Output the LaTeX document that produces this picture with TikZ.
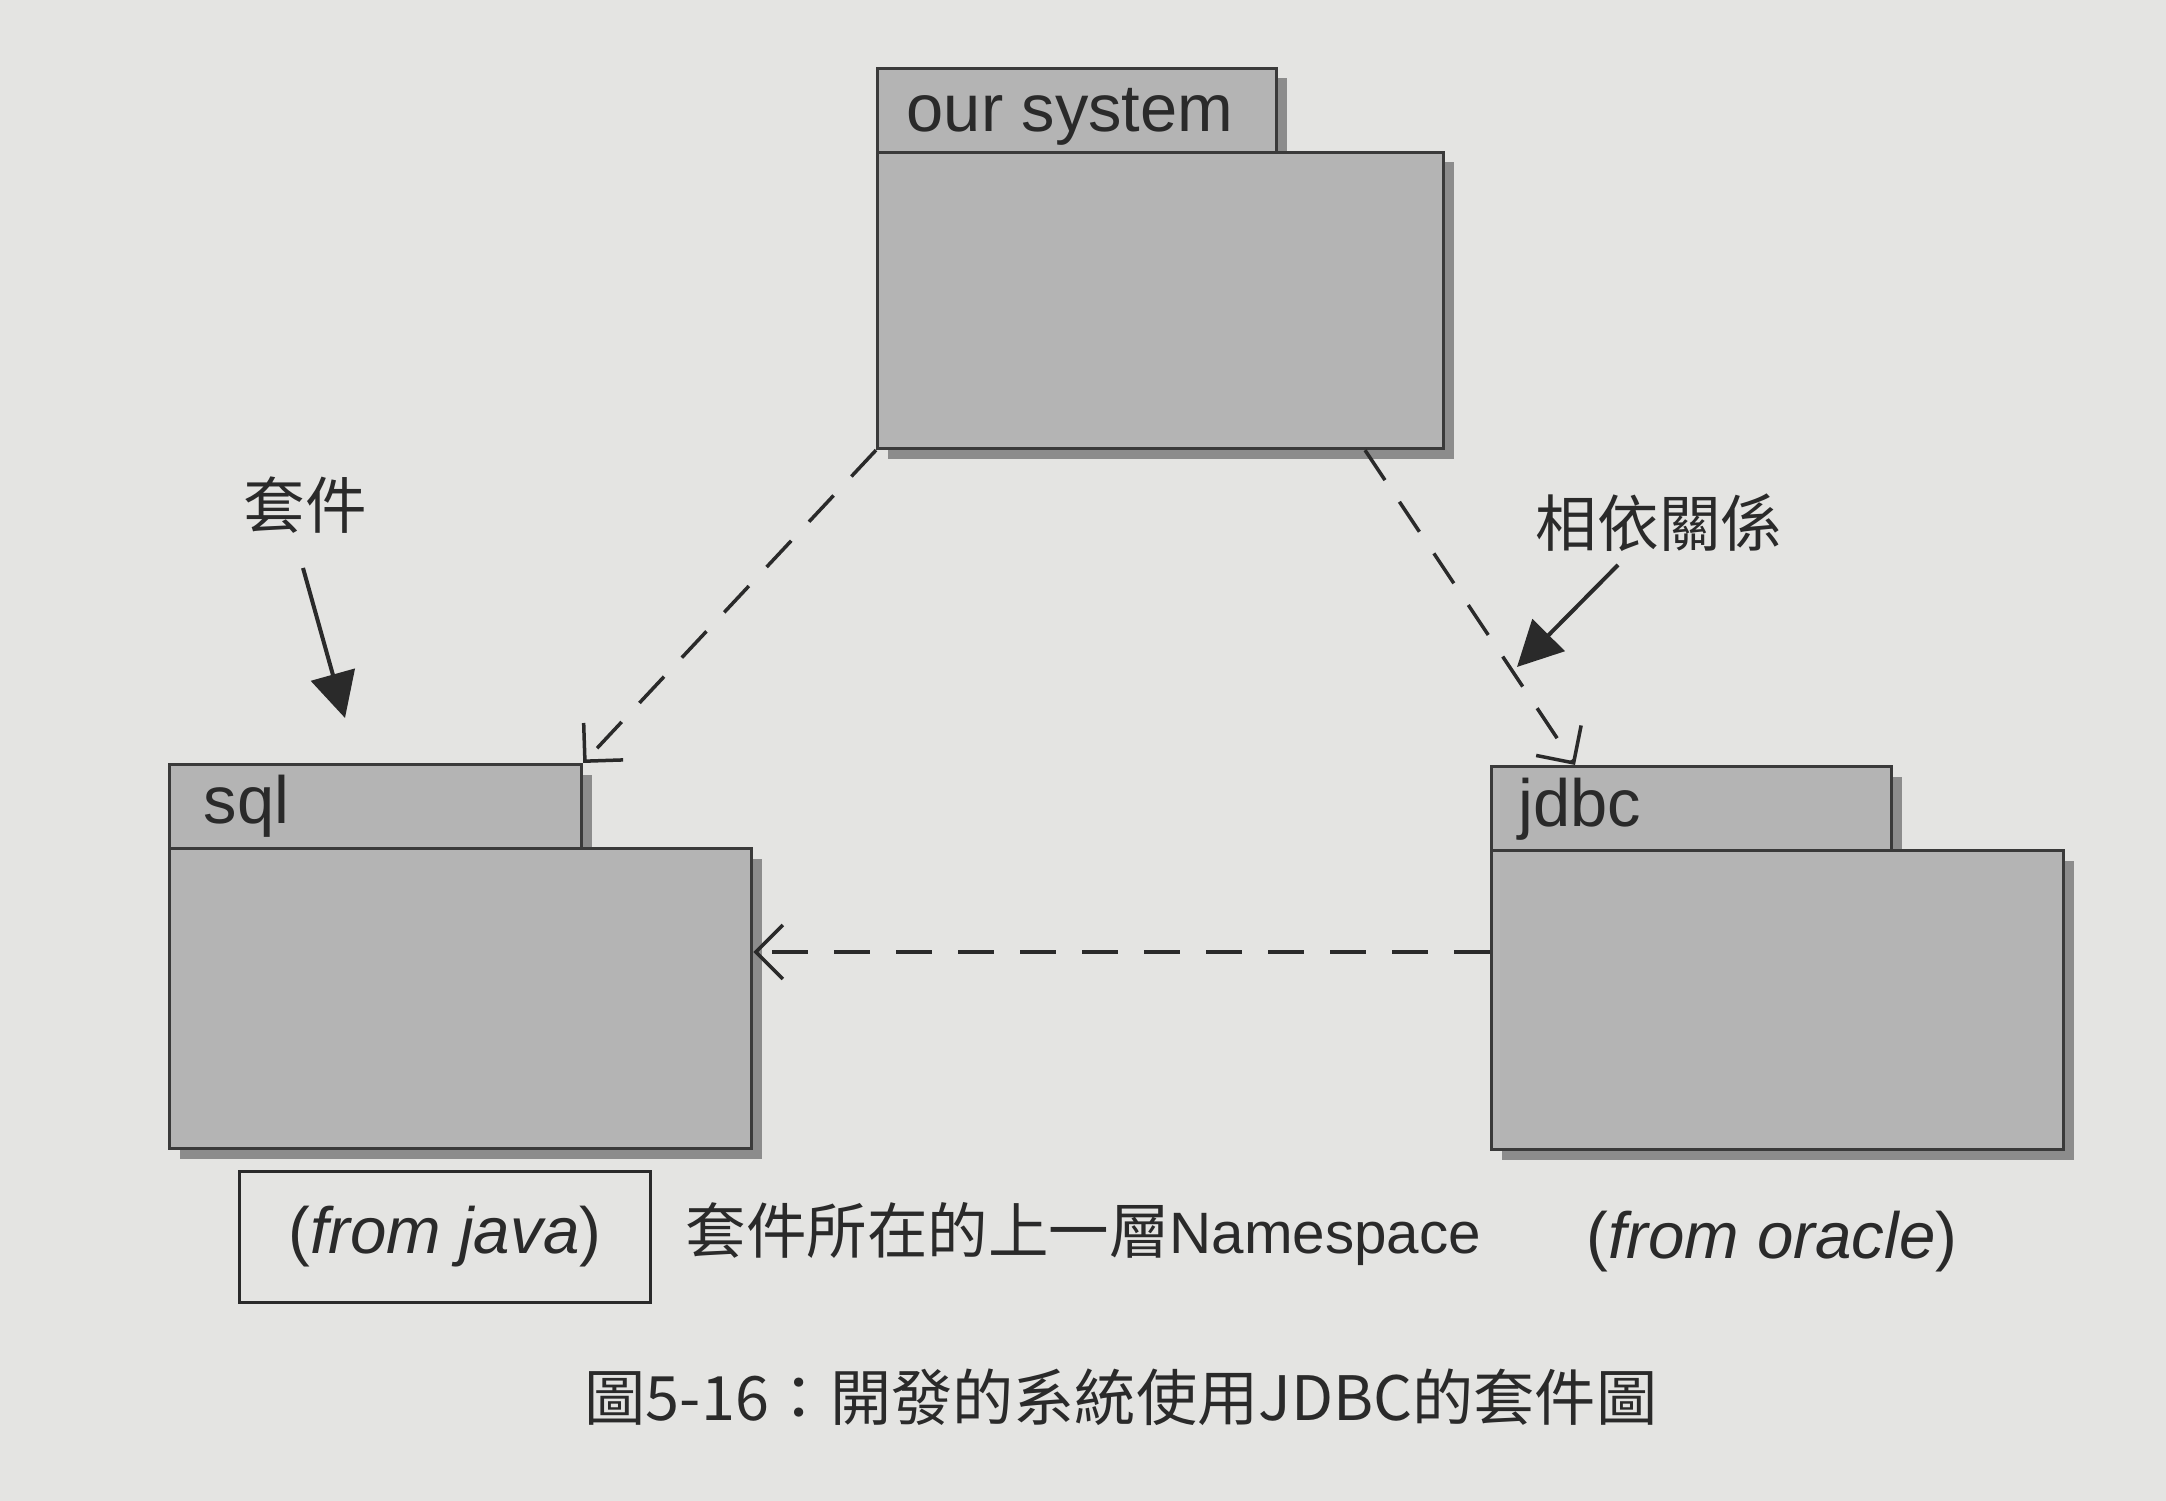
\documentclass[tikz,border=0pt]{standalone}
\usepackage{fontspec}
\setmainfont{Liberation Sans}
\newfontfamily\cjk{Noto Sans CJK TC}
\usetikzlibrary{arrows.meta,shadows,calc}
\definecolor{bgc}{HTML}{E4E4E2}
\definecolor{pkgfill}{HTML}{B4B4B4}
\definecolor{pkgline}{HTML}{3A3A3A}
\definecolor{pkgshadow}{HTML}{8C8C8C}
\definecolor{ink}{HTML}{2A2A2A}
\begin{document}
\begin{tikzpicture}[x=0.01cm,y=-0.01cm,
  pkgpart/.style={rectangle, draw=pkgline, line width=0.03cm, fill=pkgfill, inner sep=0pt, anchor=north west,
    drop shadow={shadow xshift=0.1cm, shadow yshift=-0.1cm, fill=pkgshadow, opacity=1}},
  pkglabel/.style={anchor=base west, inner sep=0pt, text=ink, font=\fontsize{19pt}{22pt}\selectfont},
  dep/.style={draw=ink, line width=0.035cm, dash pattern=on 0.36cm off 0.26cm,
    -{Straight Barb[length=0.27cm,width=0.54cm]}},
  pointer/.style={draw=ink, line width=0.04cm, -{Triangle[length=0.45cm,width=0.45cm]}},
  note/.style={text=ink, inner sep=0pt},
  cjklabel/.style={note, font=\cjk\fontsize{17.5pt}{20pt}\selectfont},
]
\fill[bgc] (0,0) rectangle (2166,1501);
\useasboundingbox (0,0) rectangle (2166,1501);

% our system
\node[pkgpart, minimum width=3.99cm, minimum height=0.84cm] (ourtab) at (876,67) {};
\node[pkgpart, minimum width=5.66cm, minimum height=2.96cm] (ourbody) at (876,151) {};
\node[pkglabel] (ourlbl) at (906,132) {our system};

% sql
\node[pkgpart, minimum width=4.12cm, minimum height=0.84cm] (sqltab) at (168,763) {};
\node[pkgpart, minimum width=5.82cm, minimum height=3.00cm] (sqlbody) at (168,847) {};
\node[pkglabel] (sqllbl) at (203,824) {sql};

% jdbc
\node[pkgpart, minimum width=4.00cm, minimum height=0.84cm] (jdbctab) at (1490,765) {};
\node[pkgpart, minimum width=5.72cm, minimum height=2.99cm] (jdbcbody) at (1490,849) {};
\node[pkglabel] (jdbclbl) at (1518,827) {jdbc};

% dependencies
\coordinate (d2s) at ($(ourbody.south west)+(489,0)$);
\coordinate (d2e) at ($(jdbctab.north west)+(85,0)$);
\coordinate (d3s) at ($(jdbcbody.north west)+(0,103)$);
\coordinate (d3e) at ($(sqlbody.north east)+(0,105)$);
\draw[dep] (ourbody.south west) -- (sqltab.north east);
\draw[dep] (d2s) -- (d2e);
\draw[dep] (d3s) -- (d3e);

% annotations
\node[cjklabel] (lblpkg) at (305,505) {套件};
\coordinate (p1s) at (303,568);
\coordinate (p1e) at (345,718);
\draw[pointer] (p1s) -- (p1e);

\node[cjklabel] (lbldep) at (1659,523) {相依關係};
\coordinate (p2s) at (1618,565);
\coordinate (p2e) at (1517,667);
\draw[pointer] (p2s) -- (p2e);

% bottom texts
\node[draw=ink, line width=0.03cm, minimum width=4.1cm, minimum height=1.31cm, inner sep=0pt, text=ink,
  font=\fontsize{18.6pt}{22pt}\selectfont] (fromjava) at (445,1237) {(\textit{from java})};
\node[note, anchor=base west] (nsnote) at (685,1254)
  {{\cjk\fontsize{17.2pt}{20pt}\selectfont 套件所在的上一層}{\fontsize{16.6pt}{20pt}\selectfont Namespace}};
\node[note, anchor=base west, font=\fontsize{18.6pt}{22pt}\selectfont] (fromoracle) at (1586,1258) {(\textit{from oracle})};

% caption
\node[note, font=\cjk\fontsize{17.4pt}{20pt}\selectfont] (caption) at (1121,1397) {圖5-16：開發的系統使用JDBC的套件圖};
\end{tikzpicture}
\end{document}
